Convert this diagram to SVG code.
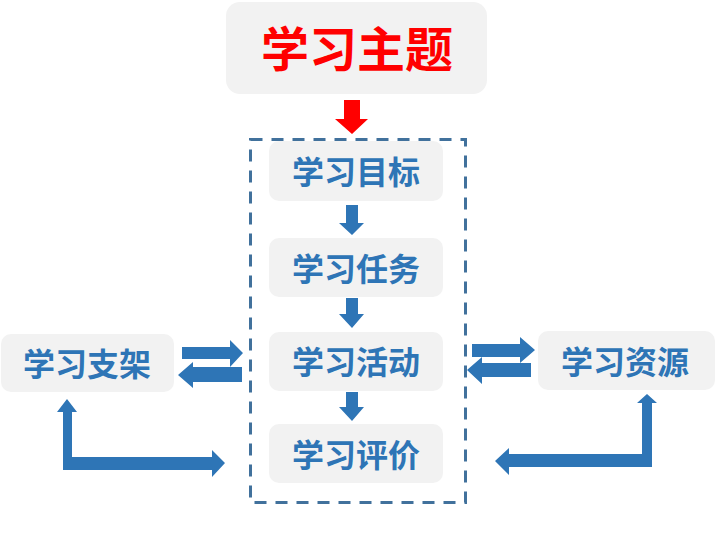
<svg xmlns="http://www.w3.org/2000/svg" width="716" height="554" viewBox="0 0 716 554">
<style>
.box{fill:#F2F2F2;}
.t{font-family:"Noto Sans CJK SC","Noto Sans",sans-serif;font-weight:bold;font-size:32px;fill:#2E75B6;text-anchor:middle;dominant-baseline:central;}
.title{font-family:"Noto Sans CJK SC","Noto Sans",sans-serif;font-weight:bold;font-size:48px;fill:#FF0000;text-anchor:middle;dominant-baseline:central;}
.arr{fill:#2E75B6;}
</style>
<rect width="716" height="554" fill="#FFFFFF"/>
<g id="frame">
<rect x="250.5" y="139.5" width="215" height="363" fill="none" stroke="#41719C" stroke-width="3" stroke-dasharray="12 9"/>
</g>
<g id="node-theme">
<rect class="box" x="226" y="2" width="261" height="92" rx="14"/>
<text class="title" x="357" y="46">学习主题</text>
</g>
<g id="node-goal">
<rect class="box" x="269" y="141" width="174" height="60" rx="10"/>
<text class="t" x="356" y="170">学习目标</text>
</g>
<g id="node-task">
<rect class="box" x="269" y="238" width="174" height="59" rx="10"/>
<text class="t" x="356" y="267">学习任务</text>
</g>
<g id="node-activity">
<rect class="box" x="269" y="332" width="174" height="59" rx="10"/>
<text class="t" x="356" y="360">学习活动</text>
</g>
<g id="node-eval">
<rect class="box" x="269" y="424" width="174" height="59" rx="10"/>
<text class="t" x="356" y="453">学习评价</text>
</g>
<g id="node-scaffold">
<rect class="box" x="1" y="334" width="173" height="58" rx="10"/>
<text class="t" x="87" y="362">学习支架</text>
</g>
<g id="node-resource">
<rect class="box" x="538" y="331" width="177" height="59" rx="10"/>
<text class="t" x="625" y="360">学习资源</text>
</g>
<g id="connectors">
<polygon fill="#FF0000" points="344,100 360,100 360,119 368,119 352,134 335,119 344,119"/>
<polygon class="arr" points="346,205 358,205 358,223 364,223 352,235 339,223 346,223"/>
<polygon class="arr" points="346,298 358,298 358,314 364,314 352,328 339,314 346,314"/>
<polygon class="arr" points="346,392 358,392 358,407 364,407 352,421 339,407 346,407"/>
<polygon class="arr" points="182,347 230,347 230,340 243,353 230,367 230,359 182,359"/>
<polygon class="arr" points="242,367 193,367 193,362 178,375 193,388 193,382 242,382"/>
<polygon class="arr" points="472,344 520,344 520,337 535,350 520,363 520,357 472,357"/>
<polygon class="arr" points="531,363 482,363 482,357 467,370 482,384 482,377 531,377"/>
<polygon class="arr" points="63,412 57,412 67,399 77,412 72,412 72,457 212,457 212,450 225,463 212,477 212,470 63,470"/>
<polygon class="arr" points="652,403 657,403 647,394 637,403 642,403 642,454 509,454 509,448 495,461 509,475 509,467 652,467"/>
</g>
</svg>
